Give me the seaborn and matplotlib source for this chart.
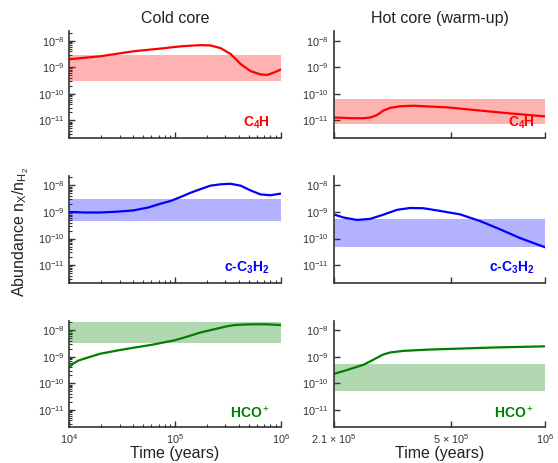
import numpy as np
import pandas as pd
import matplotlib
matplotlib.use("Agg")
import matplotlib.pyplot as plt
import matplotlib.ticker as mticker
import seaborn as sns

# =========================
# 1. DATA (log10 time, log10 abundance)
# =========================
cold_t_c4h = [4.0, 4.29, 4.61, 4.86, 5.052, 5.147, 5.242, 5.336, 5.431, 5.526,
              5.621, 5.716, 5.81, 5.874, 5.937, 6.0]
cold_c4h = [-8.70, -8.59, -8.40, -8.30, -8.216, -8.19, -8.17, -8.18, -8.28, -8.50,
            -8.88, -9.15, -9.27, -9.29, -9.20, -9.09]

hot_t_c4h = [5.322, 5.38, 5.418, 5.44, 5.461, 5.48, 5.503, 5.535, 5.578, 5.685,
             5.791, 5.898, 6.0]
hot_c4h = [-10.89, -10.92, -10.92, -10.89, -10.80, -10.64, -10.53, -10.47, -10.45, -10.51,
           -10.63, -10.75, -10.85]

cold_t_c3h2 = [4.0, 4.15, 4.29, 4.45, 4.61, 4.75, 4.863, 4.957, 5.052, 5.147, 5.242,
               5.336, 5.431, 5.526, 5.621, 5.716, 5.81, 5.905, 6.0]
cold_c3h2 = [-9.0, -9.02, -9.02, -8.99, -8.94, -8.83, -8.69, -8.59, -8.44, -8.28, -8.14,
             -8.01, -7.96, -7.94, -8.01, -8.19, -8.34, -8.37, -8.31]

hot_t_c3h2 = [5.322, 5.354, 5.397, 5.439, 5.482, 5.525, 5.567, 5.610, 5.663, 5.727,
              5.791, 5.855, 5.919, 6.0]
hot_c3h2 = [-9.09, -9.21, -9.30, -9.26, -9.10, -8.92, -8.85, -8.86, -8.96, -9.09,
            -9.34, -9.65, -9.98, -10.33]

cold_t_hco = [4.0, 4.04, 4.09, 4.17, 4.29, 4.45, 4.61, 4.77, 5.0, 5.12, 5.24, 5.40,
              5.50, 5.56, 5.65, 5.75, 5.87, 6.0]
cold_hco = [-9.39, -9.25, -9.14, -9.04, -8.89, -8.77, -8.66, -8.56, -8.38, -8.24, -8.09,
            -7.94, -7.85, -7.81, -7.79, -7.78, -7.78, -7.81]

hot_t_hco = [5.322, 5.365, 5.418, 5.44, 5.461, 5.48, 5.503, 5.546, 5.631, 5.738, 5.844, 6.0]
hot_hco = [-9.65, -9.50, -9.30, -9.17, -9.04, -8.92, -8.84, -8.78, -8.73, -8.69, -8.65, -8.61]

# observed ranges (low, high)
band_c4h_cold = (3e-10, 3e-9)
band_c4h_hot = (7.5e-12, 6.5e-11)
band_c3h2_cold = (4.6e-10, 3.2e-9)
band_c3h2_hot = (5e-11, 5.3e-10)
band_hco_cold = (3.4e-9, 2.1e-8)
band_hco_hot = (5e-11, 5.3e-10)

species = ["C$_\\mathbf{4}$H", "c-C$_\\mathbf{3}$H$_\\mathbf{2}$", "HCO$^+$"]
colors = ["#ff0000", "#0000ff", "#008000"]
col_titles = ["Cold core", "Hot core (warm-up)"]

panels = [
    [(cold_t_c4h, cold_c4h, band_c4h_cold), (hot_t_c4h, hot_c4h, band_c4h_hot)],
    [(cold_t_c3h2, cold_c3h2, band_c3h2_cold), (hot_t_c3h2, hot_c3h2, band_c3h2_hot)],
    [(cold_t_hco, cold_hco, band_hco_cold), (hot_t_hco, hot_hco, band_hco_hot)],
]

# =========================
# 2. STYLE
# =========================
sns.set_theme(style="ticks")
plt.rcParams["font.family"] = ["Liberation Sans", "DejaVu Sans"]
plt.rcParams["mathtext.fontset"] = "custom"
plt.rcParams["mathtext.rm"] = "Liberation Sans"
plt.rcParams["mathtext.bf"] = "Liberation Sans:bold"
plt.rcParams["axes.edgecolor"] = "#333333"
plt.rcParams["xtick.color"] = "#333333"
plt.rcParams["ytick.color"] = "#333333"
plt.rcParams["lines.solid_joinstyle"] = "round"

fig, axes = plt.subplots(3, 2, figsize=(5.58, 4.63), dpi=100)
fig.subplots_adjust(left=0.124, right=0.977, bottom=0.077, top=0.933,
                    wspace=0.251, hspace=0.355)

# =========================
# 3. PLOT
# =========================
for i in range(3):
    for j in range(2):
        ax = axes[i, j]
        t, ab, band = panels[i][j]
        df = pd.DataFrame({"t": 10 ** np.array(t), "ab": 10 ** np.array(ab)})
        ax.axhspan(band[0], band[1], color=colors[i], alpha=0.3, lw=0)
        sns.lineplot(data=df, x="t", y="ab", ax=ax, color=colors[i], lw=1.6)
        ax.set_xscale("log")
        ax.set_yscale("log")
        ax.set_ylim(2.2e-12, 2.3e-8)
        ax.set_xlabel("")
        ax.set_ylabel("")
        ax.yaxis.set_major_locator(mticker.FixedLocator([1e-11, 1e-10, 1e-9, 1e-8]))
        ax.tick_params(which="both", direction="in", labelsize=7.8, width=1.0)
        ax.tick_params(which="major", length=4.5)
        ax.tick_params(which="minor", length=2, width=0.8)
        for s in ["left", "bottom"]:
            ax.spines[s].set_linewidth(1.2)
        sns.despine(ax=ax)

        if j == 0:
            ax.set_xlim(1e4, 1e6)
            ax.xaxis.set_major_locator(mticker.FixedLocator([1e4, 1e5, 1e6]))
        else:
            ax.set_xlim(2.1e5, 1e6)
            ax.xaxis.set_major_locator(mticker.FixedLocator([2.1e5, 5e5, 1e6]))
            ax.xaxis.set_major_formatter(mticker.FixedFormatter(
                ["2.1 × 10$^5$", "5 × 10$^5$", "10$^6$"]))
            ax.xaxis.set_minor_locator(mticker.NullLocator())
            ax.yaxis.set_minor_locator(mticker.NullLocator())

        if i < 2:
            ax.tick_params(axis="x", labelbottom=False)
        else:
            ax.set_xlabel("Time (years)", fontsize=11.5, color="#222222", labelpad=0)

        if i == 0:
            ax.set_title(col_titles[j], fontsize=11.5, color="#222222", pad=6)

        ax.text(0.95, 0.06, species[i], transform=ax.transAxes, ha="right",
                va="bottom", color=colors[i], fontsize=10, fontweight="bold")

fig.text(0.038, 0.5, "Abundance $\\mathrm{n_X/n_{H_2}}$", rotation=90, va="center",
         ha="center", fontsize=11.5, color="#222222")

fig.savefig("out.png", dpi=100)
